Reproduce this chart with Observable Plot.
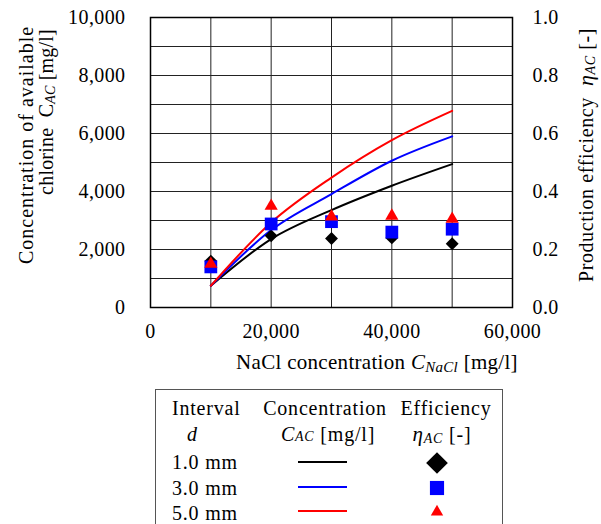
<!DOCTYPE html>
<html><head><meta charset="utf-8">
<script src="https://cdn.jsdelivr.net/npm/d3@7"></script>
<script src="https://cdn.jsdelivr.net/npm/@observablehq/plot@0.6"></script>
<style>
body{margin:0;background:#fff;font-family:"Liberation Serif",serif;}
svg{display:block}
</style>
</head><body><div id="chart"></div>
<script>
// ---- data ----
const nacl = [10000, 20000, 30000, 40000, 50000];
const intervals = ["1.0 mm", "3.0 mm", "5.0 mm"];
const colors = ["#000000", "#0000ff", "#ff0000"];
const symbols = ["diamond2", "square", "triangle2"];
const conc1 = [750, 2360, 3360, 4200, 4945];
const conc3 = [750, 2670, 3910, 5060, 5900];
const conc5 = [750, 2930, 4480, 5770, 6780];
const eff1 = [0.16, 0.247, 0.238, 0.24, 0.22];
const eff3 = [0.14, 0.288, 0.296, 0.26, 0.27];
const eff5 = [0.15, 0.35, 0.313, 0.316, 0.305];
const xTicks = [0, 20000, 40000, 60000];
const yTicks = [0, 2000, 4000, 6000, 8000, 10000];
const effTicks = [0, 0.2, 0.4, 0.6, 0.8, 1.0];

const concs = [conc1, conc3, conc5];
const effs = [eff1, eff3, eff5];
const concRows = intervals.flatMap((s, i) => nacl.map((x, j) => ({s, x, y: concs[i][j]})));
const effRows = intervals.flatMap((s, i) => nacl.map((x, j) => ({s, x, e: effs[i][j]})));

const W = 601, H = 385;
const serif = '"Liberation Serif", "Times New Roman", serif';
const fmt = d3.format(",.0f");

const marks = [
  Plot.gridX(d3.range(10000, 60000, 10000), {stroke: "#222", strokeOpacity: 1, strokeWidth: 1}),
  Plot.gridY(d3.range(1000, 10000, 1000), {stroke: "#222", strokeOpacity: 1, strokeWidth: 1}),
  Plot.axisX(xTicks, {tickSize: 0, tickPadding: 16, tickFormat: fmt, label: null, fontSize: 20}),
  Plot.axisY(yTicks, {anchor: "left", tickSize: 0, tickPadding: 25, tickFormat: fmt, label: null, fontSize: 20}),
  Plot.axisY(yTicks, {anchor: "right", tickSize: 0, tickPadding: 20, tickFormat: (d, i) => effTicks[i].toFixed(1), label: null, fontSize: 20}),
];
intervals.forEach((s, i) => {
  marks.push(Plot.line(concRows.filter(d => d.s === s), {x: "x", y: "y", stroke: colors[i], strokeWidth: 2, curve: "monotone-x"}));
});
const rs = [5.8, 7.2, 6.3];
intervals.forEach((s, i) => {
  marks.push(Plot.dot(effRows.filter(d => d.s === s), {x: "x", y: d => d.e * 10000, symbol: () => symbols[i], fill: colors[i], stroke: "none", r: rs[i]}));
});
marks.push(Plot.frame({stroke: "#000", strokeWidth: 1.5}));

const chart = Plot.plot({
  width: W, height: H,
  marginLeft: 150, marginRight: 89, marginTop: 17, marginBottom: 78,
  style: {fontFamily: serif, fontSize: "20px", color: "#000", background: "#fff", letterSpacing: "0.4px"},
  x: {domain: [0, 60000]},
  y: {domain: [0, 10000]},
  symbol: {type: "identity"},
  marks
});
document.getElementById("chart").appendChild(chart);

const svg = d3.select(chart);
// x label
const xl = svg.append("text").attr("x", 377).attr("y", 369).attr("text-anchor", "middle")
  .attr("font-family", serif).attr("font-size", 21).attr("fill", "#000").attr("letter-spacing", "0.3px");
xl.append("tspan").text("NaCl concentration ");
xl.append("tspan").attr("font-style", "italic").text("C");
xl.append("tspan").attr("font-style", "italic").attr("font-size", 15).attr("dy", 3).text("NaCl");
xl.append("tspan").attr("dy", -3).text(" [mg/l]");

// left y label
svg.append("text").attr("transform", "translate(33,145) rotate(-90)").attr("text-anchor", "middle")
  .attr("font-family", serif).attr("font-size", 20).attr("letter-spacing", "1px").attr("fill", "#000").text("Concentration of available");
const yl2 = svg.append("text").attr("transform", "translate(53,112) rotate(-90)").attr("text-anchor", "middle")
  .attr("font-family", serif).attr("font-size", 20).attr("letter-spacing", "0.2px").attr("fill", "#000");
yl2.append("tspan").text("chlorine  C");
yl2.append("tspan").attr("font-style", "italic").attr("font-size", 14).attr("dy", 2).text("AC");
yl2.append("tspan").attr("dy", -2).text(" [mg/l]");

// right y label
const yr = svg.append("text").attr("transform", "translate(593,155) rotate(-90)").attr("text-anchor", "middle")
  .attr("font-family", serif).attr("font-size", 20).attr("letter-spacing", "0.6px").attr("fill", "#000");
yr.append("tspan").text("Production efficiency  ");
yr.append("tspan").attr("font-style", "italic").attr("font-size", 22).text("η");
yr.append("tspan").attr("font-style", "italic").attr("font-size", 14).attr("dy", 2).text("AC");
yr.append("tspan").attr("dy", -2).text(" [-]");

// ---- legend (below the plot) ----
const LH = 524 - H;
const leg = d3.select("#chart").append("svg").attr("width", W).attr("height", LH)
  .attr("font-family", serif).attr("font-size", 20).attr("letter-spacing", "0.8px");
const oy = -H; // page y -> legend y
leg.append("rect").attr("x", 155.5).attr("y", 389.5 + oy).attr("width", 347).attr("height", 200)
  .attr("fill", "#fff").attr("stroke", "#555").attr("stroke-width", 1);
leg.append("text").attr("x", 172).attr("y", 415 + oy).text("Interval");
leg.append("text").attr("x", 187).attr("y", 441 + oy).attr("font-style", "italic").text("d");
leg.append("text").attr("x", 325).attr("y", 415 + oy).attr("text-anchor", "middle").text("Concentration");
const lc = leg.append("text").attr("x", 328).attr("y", 441 + oy).attr("text-anchor", "middle");
lc.append("tspan").attr("font-style", "italic").text("C");
lc.append("tspan").attr("font-style", "italic").attr("font-size", 14).text("AC");
lc.append("tspan").text(" [mg/l]");
leg.append("text").attr("x", 446).attr("y", 415 + oy).attr("text-anchor", "middle").text("Efficiency");
const le = leg.append("text").attr("x", 442).attr("y", 441 + oy).attr("text-anchor", "middle");
le.append("tspan").attr("font-style", "italic").attr("font-size", 21).text("η");
le.append("tspan").attr("font-style", "italic").attr("font-size", 14).attr("dy", 2).text("AC");
le.append("tspan").attr("dy", -2).text(" [-]");
const rowBase = [469, 495, 520];
const rowMid = [462, 487, 511];
const d3sym = [d3.symbolDiamond2, d3.symbolSquare, d3.symbolTriangle2];
const legSizes = [300, 200, 110];
intervals.forEach((s, i) => {
  leg.append("text").attr("x", 172).attr("y", rowBase[i] + oy).text(s);
  leg.append("line").attr("x1", 298).attr("x2", 347).attr("y1", rowMid[i] + oy).attr("y2", rowMid[i] + oy)
    .attr("stroke", colors[i]).attr("stroke-width", 2);
  leg.append("path").attr("d", d3.symbol(d3sym[i], legSizes[i])())
    .attr("transform", `translate(437,${rowMid[i] + 1 + oy})`).attr("fill", colors[i]);
});
</script>
</body></html>
